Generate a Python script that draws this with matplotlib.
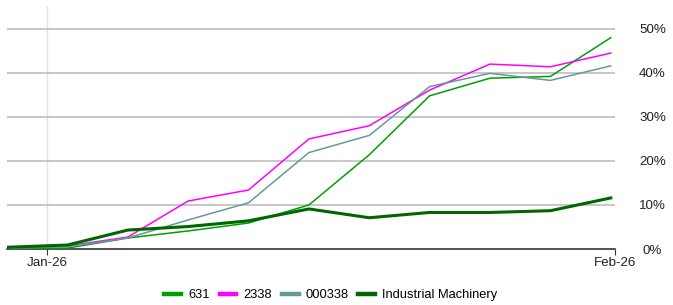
import matplotlib.pyplot as plt
import numpy as np

plt.rcParams['font.family'] = ['Liberation Sans', 'DejaVu Sans']

# 数据 (累计涨幅 %)
steps = np.arange(11)
s631 = [0.2, 0.2, 2.5, 4.1, 5.9, 10.0, 21.4, 34.8, 38.8, 39.2, 48.0]
s2338 = [0.2, 0.7, 2.7, 10.9, 13.4, 25.0, 28.0, 36.1, 42.0, 41.4, 44.5]
s000338 = [0.2, 0.5, 2.5, 6.6, 10.5, 21.9, 25.8, 36.9, 39.9, 38.3, 41.6]
industry = [0.4, 0.9, 4.3, 5.1, 6.4, 9.1, 7.1, 8.3, 8.3, 8.7, 11.6]

month_pos = [0.66, 10.07]
month_labels = ['Jan-26', 'Feb-26']
y_ticks = [0, 10, 20, 30, 40, 50]

fig = plt.figure(figsize=(6.73, 3.05), dpi=100)
ax = fig.add_axes([7 / 673, 56 / 305, 608 / 673, 243 / 305])

# 网格
for v in y_ticks[1:]:
    ax.axhline(v, color='#b8b8b8', lw=1.1, zorder=1)
ax.axvline(month_pos[0], color='#e4e4e4', lw=1, zorder=0)

ax.plot(steps, s631, color='#00a000', lw=1.1, label='631', zorder=3)
ax.plot(steps, s2338, color='#ff00ff', lw=1.1, label='2338', zorder=3)
ax.plot(steps, s000338, color='#669999', lw=1.1, label='000338', zorder=3)
ax.plot(steps, industry, color='#006600', lw=2.2, label='Industrial Machinery', zorder=4)

ax.set_xlim(0, 10.07)
ax.set_ylim(0, 55.2)

for s in ['top', 'left', 'right']:
    ax.spines[s].set_visible(False)
ax.spines['bottom'].set_color('#222222')
ax.spines['bottom'].set_linewidth(1.1)

ax.set_xticks(month_pos)
ax.set_xticklabels(month_labels, fontsize=9.6, color='#222222')
ax.tick_params(axis='x', length=4, width=0.8, color='#333333', pad=1.5)

ax.yaxis.tick_right()
ax.set_yticks(y_ticks)
ax.set_yticklabels([f'{v}%' for v in y_ticks], fontsize=9.6, color='#222222')
ax.tick_params(axis='y', length=0, pad=27)
for lab in ax.get_yticklabels():
    lab.set_horizontalalignment('center')

leg = fig.legend(loc='center', bbox_to_anchor=(331 / 673, 1 - 295 / 305), ncol=4,
                 frameon=False, fontsize=9.3, handlelength=1.3, handletextpad=0.55,
                 columnspacing=0.75)
for h in leg.get_lines():
    h.set_linewidth(3.2)

fig.savefig('out.png', dpi=100)
